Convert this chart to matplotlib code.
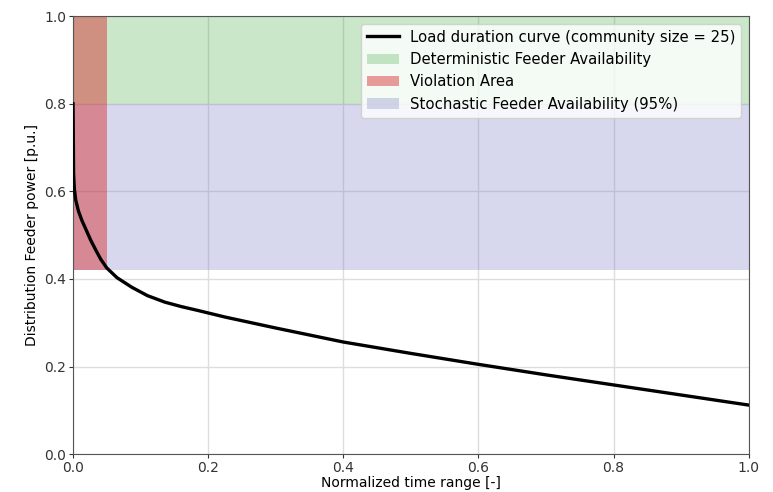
import matplotlib
matplotlib.use('Agg')
import matplotlib.pyplot as plt
from matplotlib.patches import Patch
from matplotlib.lines import Line2D

# load duration curve
time_norm = [0.0, 0.0008, 0.002, 0.004, 0.008, 0.013, 0.02, 0.026, 0.034, 0.041,
             0.05, 0.065, 0.087, 0.11, 0.136, 0.16, 0.185, 0.225, 0.3, 0.4,
             0.5, 0.6, 0.7, 0.8, 0.9, 1.0]
power_pu = [0.80, 0.64, 0.605, 0.58, 0.555, 0.534, 0.51, 0.489, 0.465, 0.445,
            0.425, 0.403, 0.381, 0.362, 0.347, 0.337, 0.328, 0.313, 0.288, 0.256,
            0.23, 0.205, 0.181, 0.158, 0.135, 0.112]

det_limit = (0.8, 1.0)
stoch_limit = (0.42, 0.8)
violation_x = 0.05

fig = plt.figure(figsize=(7.73, 4.92), dpi=100)
ax = fig.add_axes([0.0945, 0.077, 0.874, 0.890])

ax.axhspan(det_limit[0], det_limit[1], color='tab:green', alpha=0.25, lw=0)
ax.axhspan(stoch_limit[0], stoch_limit[1], color='#7b7fc4', alpha=0.3, lw=0)
ax.fill_between([0, violation_x], stoch_limit[0], det_limit[1],
                color='tab:red', alpha=0.45, lw=0)
ax.plot(time_norm, power_pu, color='black', lw=2.4, zorder=3,
        solid_joinstyle='round')

ax.set_xlim(0, 1)
ax.set_ylim(0, 1)
ax.set_xticks([0, 0.2, 0.4, 0.6, 0.8, 1.0])
ax.set_yticks([0, 0.2, 0.4, 0.6, 0.8, 1.0])
ax.grid(color='#dddddd', lw=1)
ax.set_axisbelow(True)
ax.tick_params(labelsize=10, colors='#333333', length=3, pad=2)
for s in ax.spines.values():
    s.set_color('#555555')

ax.set_xlabel('Normalized time range [-]', fontsize=10, labelpad=1)
ax.set_ylabel('Distribution Feeder power [p.u.]', fontsize=10, labelpad=4)

handles = [
    Line2D([0], [0], color='black', lw=2.4),
    Patch(color='tab:green', alpha=0.25, lw=0),
    Patch(color='tab:red', alpha=0.45, lw=0),
    Patch(color='#7b7fc4', alpha=0.3, lw=0),
]
labels = ['Load duration curve (community size = 25)',
          'Deterministic Feeder Availability',
          'Violation Area',
          'Stochastic Feeder Availability (95%)']
ax.legend(handles, labels, loc='upper right', fontsize=10.7, framealpha=0.8,
          handlelength=2.2, handletextpad=0.7, borderpad=0.4,
          labelspacing=0.5)

fig.savefig('out.png', dpi=100)
